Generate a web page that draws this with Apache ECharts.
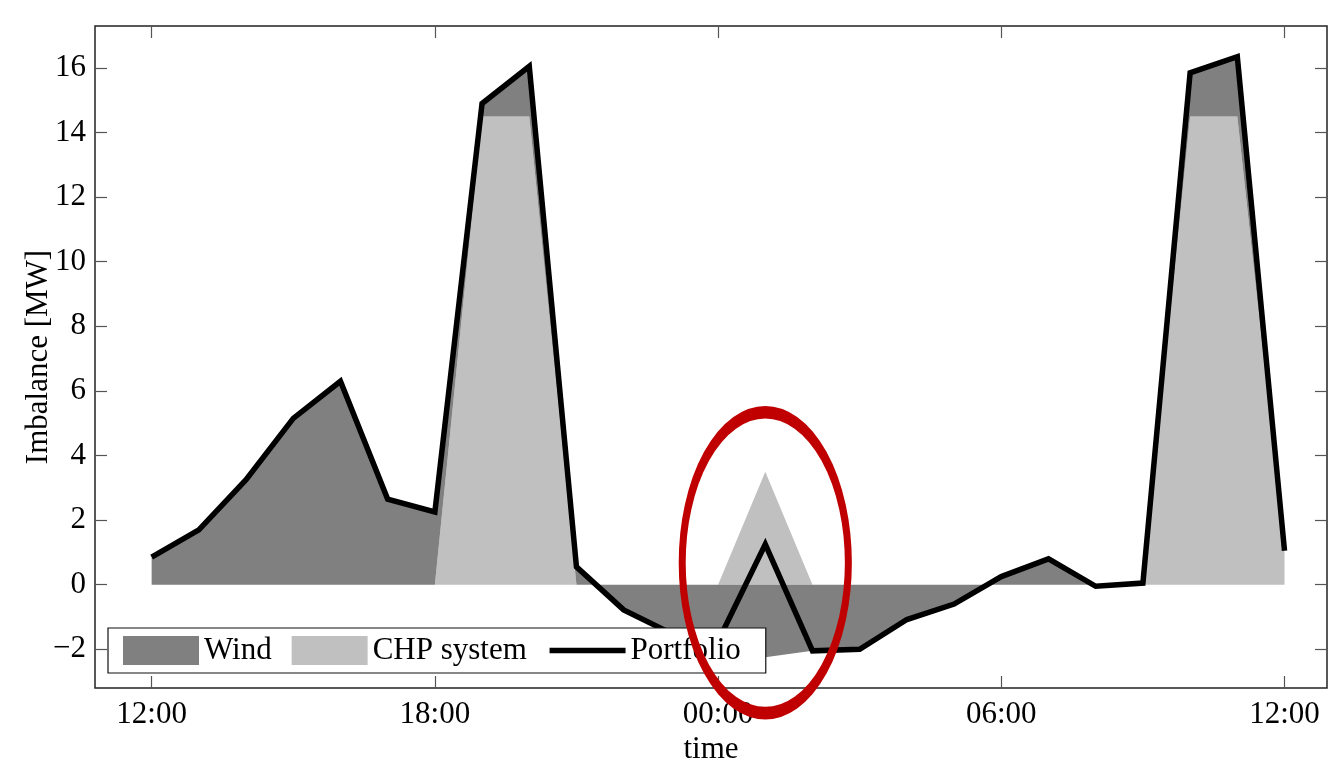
<!DOCTYPE html>
<html>
<head>
<meta charset="utf-8">
<script src="https://cdn.jsdelivr.net/npm/echarts@6/dist/echarts.min.js"></script>
<style>
  html, body { margin: 0; padding: 0; background: #fff; }
  #chart { width: 1330px; height: 762px; }
</style>
</head>
<body>
<div id="chart"></div>
<script>
// hours after 12:00
var hours = [0, 1, 2, 3, 4, 5, 6, 7, 8, 9, 10, 11, 12, 13, 14, 15, 16, 17, 18, 19, 20, 21, 22, 23, 24];
var windMW = [0.85, 1.7, 3.25, 5.15, 6.3, 2.65, 2.25, 0.4, 1.55, 0.55, -0.78, -1.5, -1.75, -2.25, -2.05, -2.0, -1.08, -0.6, 0.25, 0.8, -0.05, 0.05, 1.35, 1.85, 0.05];
var chpMW = [0, 0, 0, 0, 0, 0, 0, 14.5, 14.5, 0, 0, 0, 0, 3.5, 0, 0, 0, 0, 0, 0, 0, 0, 14.5, 14.5, 1.0];
var portfolioMW = [0.85, 1.7, 3.25, 5.15, 6.3, 2.65, 2.25, 14.9, 16.05, 0.55, -0.78, -1.5, -1.75, 1.25, -2.05, -2.0, -1.08, -0.6, 0.25, 0.8, -0.05, 0.05, 15.85, 16.35, 1.05];

var tickHours = [0, 6, 12, 18, 24];
var timeLabels = ['12:00', '18:00', '00:00', '06:00', '12:00'];
var yTicks = [-2, 0, 2, 4, 6, 8, 10, 12, 14, 16];

// highlighted spot: [hour, value, half width (h), half height (MW)]
var highlight = [[13, 0.68, 1.76, 4.66]];

// value first so that stacking happens on the y dimension
function pairs(vals) {
  return hours.map(function (h, i) { return [vals[i], h]; });
}

var font = 'Liberation Serif';
var chart = echarts.init(document.getElementById('chart'));

var tickStyle = { show: true, inside: true, length: 12, lineStyle: { color: '#555', width: 1.2 } };
var noLine = { show: false, onZero: false };

chart.setOption({
  animation: false,
  backgroundColor: '#fff',
  grid: {
    left: 95, right: 3, top: 26, bottom: 74, outerBoundsMode: 'none', containLabel: false,
    show: true, borderColor: '#222', borderWidth: 1.5, backgroundColor: '#fff'
  },
  legend: {
    left: 108, top: 628,
    orient: 'horizontal',
    backgroundColor: '#fff', borderColor: '#111', borderWidth: 1.2,
    padding: [7, 25, 7, 15],
    itemWidth: 76, itemHeight: 29, itemGap: 20,
    itemStyle: { borderWidth: 0 },
    textStyle: { fontFamily: font, fontSize: 31, color: '#000', lineHeight: 29 },
    data: [
      { name: 'Wind', icon: 'rect' },
      { name: 'CHP system', icon: 'rect' },
      { name: 'Portfolio', itemStyle: { opacity: 0 }, lineStyle: { width: 5.5, color: '#000' } }
    ]
  },
  xAxis: [{
    type: 'value', min: -1.2, max: 24.9,
    name: 'time', nameLocation: 'middle', nameGap: 46, nameMoveOverlap: false,
    nameTextStyle: { fontFamily: font, fontSize: 31, color: '#000', verticalAlign: 'top' },
    axisLine: noLine, splitLine: { show: false },
    axisTick: Object.assign({ customValues: tickHours }, tickStyle),
    axisLabel: {
      customValues: tickHours, margin: 11,
      fontFamily: font, fontSize: 31, color: '#000',
      formatter: function (v) { return timeLabels[tickHours.indexOf(v)]; }
    }
  }, {
    type: 'value', min: -1.2, max: 24.9, position: 'top',
    axisLine: noLine, splitLine: { show: false },
    axisTick: Object.assign({ customValues: tickHours }, tickStyle),
    axisLabel: { show: false }
  }],
  yAxis: [{
    type: 'value', min: -3.2, max: 17.3,
    name: 'Imbalance [MW]', nameLocation: 'middle', nameGap: 41, nameMoveOverlap: false,
    nameTextStyle: { fontFamily: font, fontSize: 31, color: '#000' },
    axisLine: noLine, splitLine: { show: false },
    axisTick: Object.assign({ customValues: yTicks }, tickStyle),
    axisLabel: {
      customValues: yTicks, margin: 9,
      fontFamily: font, fontSize: 31, color: '#000',
      formatter: function (v) { return v < 0 ? '\u2212' + Math.abs(v) : String(v); }
    }
  }, {
    type: 'value', min: -3.2, max: 17.3, position: 'right',
    axisLine: noLine, splitLine: { show: false },
    axisTick: Object.assign({ customValues: yTicks }, tickStyle),
    axisLabel: { show: false }
  }],
  series: [
    {
      name: 'CHP system', type: 'line', stack: 'imb', data: pairs(chpMW),
      encode: { x: 1, y: 0 },
      color: '#c0c0c0', symbol: 'none',
      lineStyle: { width: 0, opacity: 0 },
      areaStyle: { color: '#c0c0c0', opacity: 1 }
    },
    {
      name: 'Wind', type: 'line', stack: 'imb', data: pairs(windMW),
      encode: { x: 1, y: 0 },
      color: '#808080', symbol: 'none',
      lineStyle: { width: 0, opacity: 0 },
      areaStyle: { color: '#808080', opacity: 1 }
    },
    {
      name: 'Portfolio', type: 'line', data: pairs(portfolioMW),
      encode: { x: 1, y: 0 },
      color: '#000', symbol: 'none',
      lineStyle: { color: '#000', width: 5.5, join: 'miter' }
    },
    {
      type: 'custom', z: 10, clip: false, silent: true,
      data: highlight,
      renderItem: function (params, api) {
        var c = api.coord([api.value(0), api.value(1)]);
        var e = api.coord([api.value(0) + api.value(2), api.value(1) + api.value(3)]);
        var rx = e[0] - c[0], ry = c[1] - e[1];
        return {
          type: 'circle', x: c[0], y: c[1], scaleY: ry / rx,
          shape: { cx: 0, cy: 0, r: rx },
          style: { fill: 'none', stroke: '#c00000', lineWidth: 7, strokeNoScale: true }
        };
      }
    }
  ]
});
</script>
</body>
</html>
